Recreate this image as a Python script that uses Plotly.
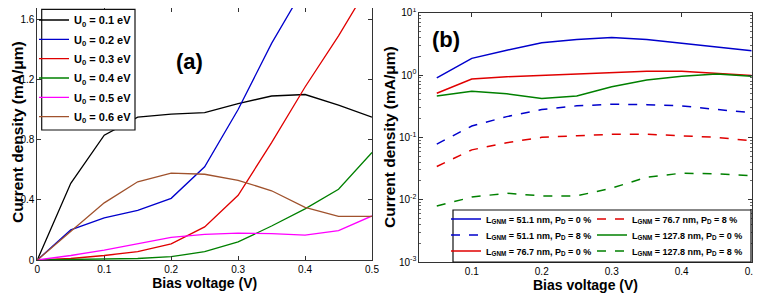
import plotly.graph_objects as go

# ---------------- Panel (a) data ----------------
bias_a = [0, 0.05, 0.1, 0.15, 0.2, 0.25, 0.3, 0.35, 0.4, 0.45, 0.5]
u0_labels = ["U<sub>0</sub> = 0.1 eV", "U<sub>0</sub> = 0.2 eV", "U<sub>0</sub> = 0.3 eV",
             "U<sub>0</sub> = 0.4 eV", "U<sub>0</sub> = 0.5 eV", "U<sub>0</sub> = 0.6 eV"]
j_u01 = [0, 0.51, 0.83, 0.95, 0.97, 0.98, 1.04, 1.09, 1.10, 1.03, 0.95]
j_u02 = [0, 0.20, 0.28, 0.33, 0.41, 0.62, 1.00, 1.44, 1.82, 2.20, 2.60]
j_u03 = [0, 0.01, 0.03, 0.055, 0.107, 0.22, 0.43, 0.78, 1.15, 1.49, 1.86]
j_u04 = [0, 0.002, 0.005, 0.01, 0.022, 0.055, 0.12, 0.226, 0.34, 0.47, 0.715]
j_u05 = [0, 0.03, 0.065, 0.11, 0.15, 0.17, 0.178, 0.175, 0.165, 0.195, 0.293]
j_u06 = [0, 0.19, 0.38, 0.52, 0.578, 0.57, 0.53, 0.46, 0.35, 0.29, 0.29]
colors_a = ["#000000", "#0000cc", "#e00000", "#008000", "#ff00ff", "#a0522d"]
ticks_a_x = [0, 0.1, 0.2, 0.3, 0.4, 0.5]
ticks_a_y = [0, 0.4, 0.8, 1.2, 1.6]

# ---------------- Panel (b) data ----------------
bias_b = [0.05, 0.1, 0.15, 0.2, 0.25, 0.3, 0.35, 0.4, 0.45, 0.5]
b_labels = ["L<sub>GNM</sub> = 51.1 nm, P<sub>D</sub> = 0 %",
            "L<sub>GNM</sub> = 51.1 nm, P<sub>D</sub> = 8 %",
            "L<sub>GNM</sub> = 76.7 nm, P<sub>D</sub> = 0 %",
            "L<sub>GNM</sub> = 76.7 nm, P<sub>D</sub> = 8 %",
            "L<sub>GNM</sub> = 127.8 nm, P<sub>D</sub> = 0 %",
            "L<sub>GNM</sub> = 127.8 nm, P<sub>D</sub> = 8 %"]
j_511_0 = [0.9, 1.85, 2.5, 3.3, 3.7, 4.0, 3.7, 3.2, 2.8, 2.45]
j_511_8 = [0.078, 0.152, 0.215, 0.28, 0.32, 0.34, 0.335, 0.32, 0.28, 0.25]
j_767_0 = [0.51, 0.86, 0.94, 0.99, 1.04, 1.09, 1.15, 1.15, 1.07, 0.98]
j_767_8 = [0.034, 0.063, 0.082, 0.10, 0.106, 0.112, 0.112, 0.105, 0.10, 0.088]
j_1278_0 = [0.46, 0.55, 0.50, 0.42, 0.46, 0.65, 0.83, 0.96, 1.04, 0.96]
j_1278_8 = [0.0079, 0.011, 0.0127, 0.0115, 0.0115, 0.0153, 0.023, 0.0266, 0.026, 0.0243]
colors_b = ["#0000cc", "#0000cc", "#e00000", "#e00000", "#008000", "#008000"]
dashes_b = ["solid", "dash", "solid", "dash", "solid", "dash"]
ticks_b_x = [0.1, 0.2, 0.3, 0.4, 0.5]
ticks_b_y = [0.001, 0.01, 0.1, 1, 10]
ticks_b_y_text = ["10<sup>-3</sup>", "10<sup>-2</sup>", "10<sup>-1</sup>", "10<sup>0</sup>", "10<sup>1</sup>"]

# page body adds an 8px margin, so the figure is 8px smaller and shifted
OFF = 8
W, H = 761 - OFF, 295 - OFF


def px(x):
    return (x - OFF) / W


def py(y):
    return 1 - (y - OFF) / H


FONT = "Liberation Sans, Arial, sans-serif"
fig = go.Figure()
legend_layouts = {}


def one_row_legend(x, y, size):
    return dict(x=px(x), y=py(y), xanchor="left", yanchor="middle",
                bgcolor="rgba(0,0,0,0)", borderwidth=0,
                font=dict(family=FONT, size=size, color="#000", weight="bold"),
                tracegroupgap=0, itemwidth=30)


# panel (a): one legend per row inside a framed box
a_leg_rows = [20, 39.3, 58.7, 78, 97.3, 116.7]
for i, (lab, ys, col, ry) in enumerate(zip(u0_labels, [j_u01, j_u02, j_u03, j_u04, j_u05, j_u06],
                                           colors_a, a_leg_rows)):
    lg = "legend" if i == 0 else f"legend{i + 1}"
    fig.add_trace(go.Scatter(x=bias_a, y=ys, mode="lines", name=lab,
                             line=dict(color=col, width=1.3),
                             xaxis="x", yaxis="y", legend=lg))
    legend_layouts[lg] = one_row_legend(34, ry, 11)

# panel (b) legend: two columns x three rows
b_leg_pos = [(446, 219), (446, 235), (446, 251), (592, 219), (592, 235), (592, 251)]
for i, (lab, ys, col, dsh, pos) in enumerate(zip(
        b_labels, [j_511_0, j_511_8, j_767_0, j_767_8, j_1278_0, j_1278_8],
        colors_b, dashes_b, b_leg_pos)):
    lg = f"legend{i + 7}"
    fig.add_trace(go.Scatter(x=bias_b, y=ys, mode="lines", name=lab,
                             line=dict(color=col, width=1.5, dash=dsh),
                             xaxis="x2", yaxis="y2", legend=lg))
    legend_layouts[lg] = one_row_legend(pos[0], pos[1], 9)

axis_common = dict(showline=True, linecolor="#333", linewidth=1, mirror="ticks",
                   ticks="inside", ticklen=4, tickcolor="#333", showgrid=False, zeroline=False,
                   automargin=False, ticklabeloverflow="allow",
                   tickfont=dict(family=FONT, size=10, color="#000"))
xtitle_font = dict(family=FONT, size=14, color="#000", weight="bold")
ytitle_font = dict(family=FONT, size=15.5, color="#000", weight="bold")
panel_font = dict(family=FONT, size=22, color="#000", weight="bold")

fig.update_layout(
    width=W, height=H,
    margin=dict(l=0, r=0, t=0, b=0, autoexpand=False),
    paper_bgcolor="white", plot_bgcolor="white",
    showlegend=True,
    xaxis=dict(domain=[px(37.3), px(372)], range=[0, 0.5], tickvals=ticks_a_x,
               ticktext=[f"{v:g}" for v in ticks_a_x],
               title=dict(text="Bias voltage (V)", font=xtitle_font, standoff=2), **axis_common),
    yaxis=dict(domain=[py(260), py(8)], range=[0, 1.675], tickvals=ticks_a_y,
               ticktext=[f"{v:g}" for v in ticks_a_y], **axis_common),
    xaxis2=dict(domain=[px(419.3), px(751.7)], range=[0.025, 0.5], tickvals=ticks_b_x,
                ticktext=[f"{v:g}" for v in ticks_b_x], anchor="y2",
                title=dict(text="Bias voltage (V)", font=xtitle_font, standoff=2), **axis_common),
    yaxis2=dict(domain=[py(262), py(12.7)], type="log", range=[-3, 1], tickvals=ticks_b_y,
                ticktext=ticks_b_y_text, anchor="x2",
                minor=dict(ticks="inside", ticklen=2, tickcolor="#666", dtick="D1"),
                **axis_common),
    **legend_layouts,
    shapes=[
        dict(type="rect", xref="paper", yref="paper",
             x0=px(41.7), x1=px(135), y0=py(130), y1=py(9.3),
             line=dict(color="#111", width=1.2), fillcolor="white", layer="above"),
        dict(type="rect", xref="paper", yref="paper",
             x0=px(453), x1=px(751), y0=py(262), y1=py(210),
             line=dict(color="#111", width=1.2), fillcolor="white", layer="above"),
    ],
    annotations=[
        dict(text="Current density (mA/\u03bcm)", x=px(17), y=py(132), xref="paper", yref="paper",
             xanchor="center", yanchor="middle", textangle=-90, showarrow=False, font=ytitle_font),
        dict(text="Current density (mA/\u03bcm)", x=px(389), y=py(137), xref="paper", yref="paper",
             xanchor="center", yanchor="middle", textangle=-90, showarrow=False, font=ytitle_font),
        dict(text="(a)", x=px(189), y=py(61), xref="paper", yref="paper",
             xanchor="center", yanchor="middle", showarrow=False, font=panel_font),
        dict(text="(b)", x=px(446), y=py(39), xref="paper", yref="paper",
             xanchor="center", yanchor="middle", showarrow=False, font=panel_font),
    ],
)

fig.write_html("out.html")
